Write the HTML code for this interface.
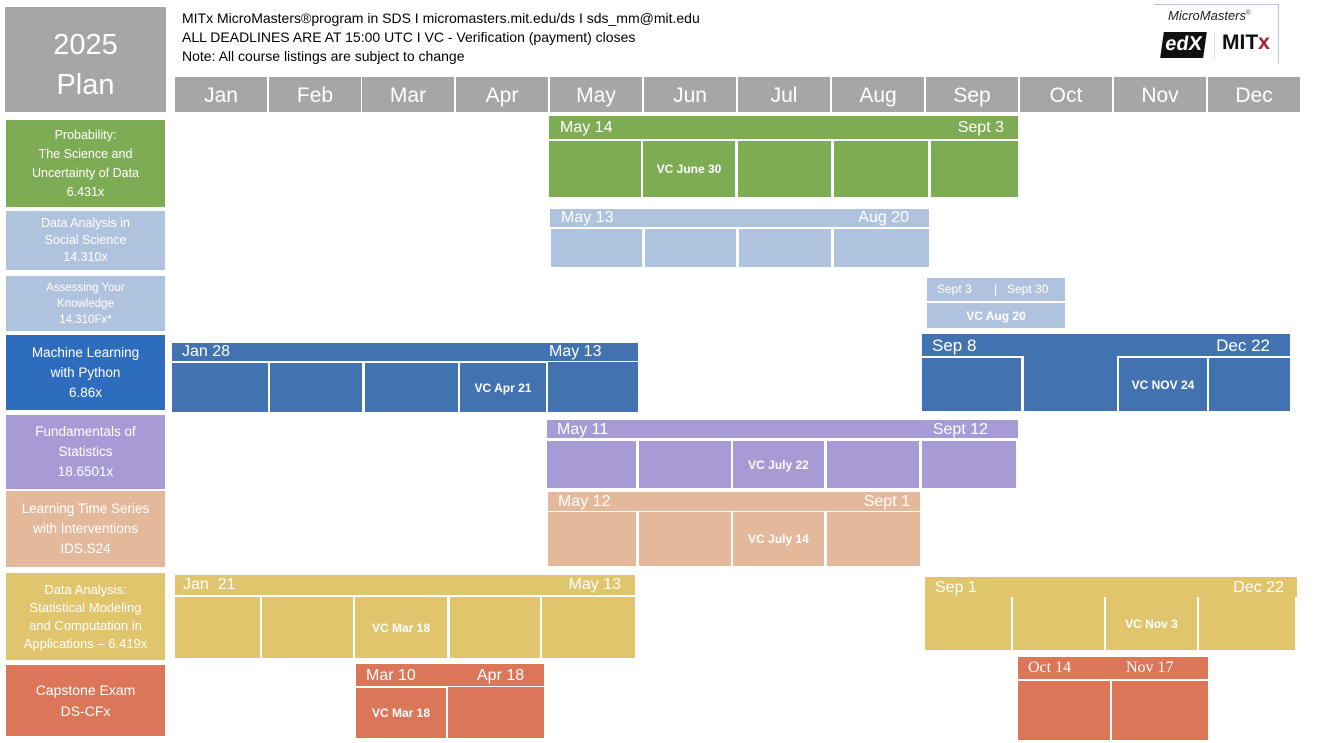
<!DOCTYPE html>
<html><head><meta charset="utf-8"><style>
body{margin:0;width:1320px;height:743px;position:relative;background:#fff;overflow:hidden;font-family:"Liberation Sans",sans-serif}
div{position:absolute;box-sizing:border-box}
.m{background:#a6a6a6;color:#fff;top:77px;height:35px;width:92px;font-size:21px;text-align:center;line-height:37px}
.h{color:#fff;font-size:16px;line-height:20px}
.h span{position:absolute}
.l{color:#fff;text-align:center;display:flex;align-items:center;justify-content:center;left:6px;width:159px;font-size:13.5px;line-height:19px}
.vc{color:#fff;font-weight:bold;font-size:12px;display:flex;align-items:center;justify-content:center}
.g{background:#7eac55}.lb{background:#b0c3de}.b{background:#4273b0}.p{background:#a89bd5}.s{background:#e4b89b}.y{background:#e0c56d}.o{background:#db7659}
</style></head><body>
<div style="left:5px;top:7px;width:161px;height:105px;background:#a6a6a6;color:#fff;font-size:29px;line-height:40px;text-align:center;padding-top:18px">2025<br>Plan</div>
<div style="left:182px;top:9px;font-size:14px;line-height:19px;color:#000;white-space:nowrap">MITx MicroMasters®program in SDS I micromasters.mit.edu/ds I sds_mm@mit.edu<br>ALL DEADLINES ARE AT 15:00 UTC I VC - Verification (payment) closes<br>Note: All course listings are subject to change</div>
<div style="left:1154px;top:4px;width:125px;height:59px;border-top:1px solid #b4c6e7;border-right:1px solid #b4c6e7"></div>
<div style="left:1168px;top:8px;font-size:13px;font-style:italic;color:#222">MicroMasters<sup style="font-size:6px">®</sup></div>
<div style="left:1162px;top:32px;width:43px;height:26px;background:#111;color:#fff;font-weight:bold;font-size:20px;line-height:24px;text-align:center;transform:skewX(-8deg)">edX</div>
<div style="left:1214px;top:32px;width:1px;height:28px;background:#ddd"></div>
<div style="left:1222px;top:31px;font-weight:bold;font-size:21px;color:#111">MIT<span style="color:#a31f34">x</span></div>

<div class="m" style="left:175px">Jan</div><div class="m" style="left:269px">Feb</div><div class="m" style="left:362px">Mar</div><div class="m" style="left:456px">Apr</div><div class="m" style="left:550px">May</div><div class="m" style="left:644px">Jun</div><div class="m" style="left:738px">Jul</div><div class="m" style="left:832px">Aug</div><div class="m" style="left:926px">Sep</div><div class="m" style="left:1020px">Oct</div><div class="m" style="left:1114px">Nov</div><div class="m" style="left:1208px">Dec</div>

<div class="l g" style="top:120px;height:87px;font-size:12.5px">Probability:<br>The Science and<br>Uncertainty of Data<br>6.431x</div>
<div class="l lb" style="top:211px;height:59px;font-size:12.5px;line-height:17px">Data Analysis in<br>Social Science<br>14.310x</div>
<div class="l lb" style="top:276px;height:55px;font-size:11.5px;line-height:16px">Assessing Your<br>Knowledge<br>14.310Fx*</div>
<div class="l" style="top:335px;height:75px;background:#2e6dbd;line-height:20px">Machine Learning<br>with Python<br>6.86x</div>
<div class="l p" style="top:415px;height:74px;line-height:20px">Fundamentals of<br>Statistics<br>18.6501x</div>
<div class="l s" style="top:491px;height:76px;line-height:20px">Learning Time Series<br>with Interventions<br>IDS.S24</div>
<div class="l y" style="top:573px;height:87px;font-size:13px;line-height:18px">Data Analysis:<br>Statistical Modeling<br>and Computation in<br>Applications – 6.419x</div>
<div class="l o" style="top:665px;height:71px;font-size:14px;line-height:21px">Capstone Exam<br>DS-CFx</div>

<!-- green -->
<div class="h g" style="left:549px;top:116px;width:469px;height:23px"><span style="left:11px;top:2px">May 14</span><span style="right:14px;top:2px">Sept 3</span></div>
<div class="g" style="left:549px;top:141px;width:92px;height:56px"></div>
<div class="g vc" style="left:643px;top:141px;width:92px;height:56px">VC June 30</div>
<div class="g" style="left:738px;top:141px;width:93px;height:56px"></div>
<div class="g" style="left:834px;top:141px;width:94px;height:56px"></div>
<div class="g" style="left:931px;top:141px;width:87px;height:56px"></div>
<!-- light blue -->
<div class="h lb" style="left:550px;top:209px;width:379px;height:18px;line-height:18px"><span style="left:11px">May 13</span><span style="right:20px">Aug 20</span></div>
<div class="lb" style="left:551px;top:229px;width:91px;height:38px"></div>
<div class="lb" style="left:645px;top:229px;width:91px;height:38px"></div>
<div class="lb" style="left:739px;top:229px;width:92px;height:38px"></div>
<div class="lb" style="left:834px;top:229px;width:95px;height:38px"></div>
<div class="h lb" style="left:927px;top:278px;width:138px;height:23px;font-size:12px;line-height:23px"><span style="left:10px">Sept 3</span><span style="left:67px">|</span><span style="left:80px">Sept 30</span></div>
<div class="lb vc" style="left:927px;top:303px;width:138px;height:25px">VC Aug 20</div>
<!-- blue -->
<div class="h b" style="left:172px;top:343px;width:466px;height:18px;line-height:18px"><span style="left:10px">Jan 28</span><span style="left:377px">May 13</span></div>
<div class="b" style="left:172px;top:363px;width:96px;height:49px"></div>
<div class="b" style="left:270px;top:363px;width:92px;height:49px"></div>
<div class="b" style="left:365px;top:363px;width:93px;height:49px"></div>
<div class="b vc" style="left:460px;top:363px;width:86px;height:49px">VC Apr 21</div>
<div class="b" style="left:548px;top:362px;width:90px;height:50px"></div>
<div class="h b" style="left:922px;top:334px;width:368px;height:22px;font-size:17px;line-height:24px"><span style="left:10px">Sep 8</span><span style="right:20px">Dec 22</span></div>
<div class="b" style="left:922px;top:358px;width:99px;height:53px"></div>
<div class="b" style="left:1024px;top:356px;width:93px;height:55px"></div>
<div class="b vc" style="left:1119px;top:358px;width:88px;height:53px">VC NOV 24</div>
<div class="b" style="left:1209px;top:358px;width:81px;height:53px"></div>
<!-- purple -->
<div class="h p" style="left:547px;top:420px;width:471px;height:18px;line-height:20px"><span style="left:10px">May 11</span><span style="right:30px">Sept 12</span></div>
<div class="p" style="left:547px;top:441px;width:89px;height:47px"></div>
<div class="p" style="left:639px;top:441px;width:92px;height:47px"></div>
<div class="p vc" style="left:733px;top:441px;width:91px;height:47px">VC July 22</div>
<div class="p" style="left:827px;top:441px;width:92px;height:47px"></div>
<div class="p" style="left:922px;top:441px;width:94px;height:47px"></div>
<!-- salmon -->
<div class="h s" style="left:548px;top:492px;width:372px;height:19px;line-height:20px"><span style="left:10px">May 12</span><span style="right:10px">Sept 1</span></div>
<div class="s" style="left:548px;top:512px;width:88px;height:54px"></div>
<div class="s" style="left:639px;top:512px;width:92px;height:54px"></div>
<div class="s vc" style="left:733px;top:512px;width:91px;height:54px">VC July 14</div>
<div class="s" style="left:827px;top:512px;width:93px;height:54px"></div>
<!-- yellow -->
<div class="h y" style="left:175px;top:575px;width:460px;height:20px;line-height:20px"><span style="left:8px">Jan&nbsp; 21</span><span style="right:14px">May 13</span></div>
<div class="y" style="left:175px;top:597px;width:85px;height:61px"></div>
<div class="y" style="left:262px;top:597px;width:91px;height:61px"></div>
<div class="y vc" style="left:355px;top:597px;width:92px;height:61px">VC Mar 18</div>
<div class="y" style="left:450px;top:597px;width:90px;height:61px"></div>
<div class="y" style="left:542px;top:597px;width:93px;height:61px"></div>
<div class="h y" style="left:925px;top:577px;width:372px;height:20px;line-height:21px"><span style="left:10px">Sep 1</span><span style="right:13px">Dec 22</span></div>
<div class="y" style="left:925px;top:597px;width:86px;height:53px"></div>
<div class="y" style="left:1013px;top:597px;width:91px;height:53px"></div>
<div class="y vc" style="left:1106px;top:597px;width:91px;height:53px">VC Nov 3</div>
<div class="y" style="left:1199px;top:597px;width:96px;height:53px"></div>
<!-- orange -->
<div class="h o" style="left:356px;top:664px;width:188px;height:22px;line-height:24px"><span style="left:10px">Mar 10</span><span style="left:121px">Apr 18</span></div>
<div class="o vc" style="left:356px;top:688px;width:90px;height:50px">VC Mar 18</div>
<div class="o" style="left:448px;top:687px;width:96px;height:51px"></div>
<div class="h o" style="left:1018px;top:657px;width:190px;height:22px;line-height:22px;font-family:'Liberation Serif',serif"><span style="left:10px">Oct 14</span><span style="left:108px">Nov 17</span></div>
<div class="o" style="left:1018px;top:681px;width:92px;height:59px"></div>
<div class="o" style="left:1112px;top:681px;width:96px;height:59px"></div>
</body></html>
